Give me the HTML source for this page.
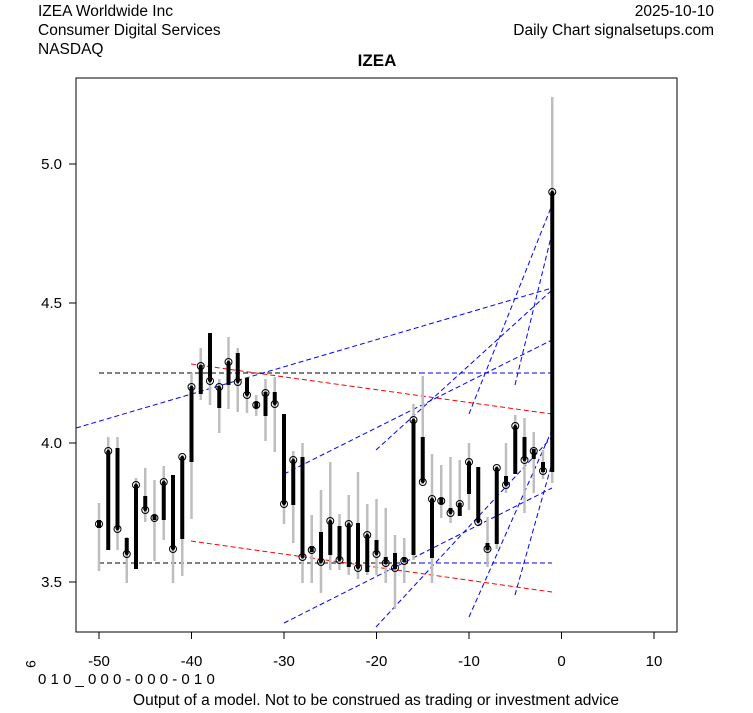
<!DOCTYPE html>
<html><head><meta charset="utf-8"><style>
body{margin:0;background:#fff}
svg text{font-family:"Liberation Sans",Arial,sans-serif}
</style></head><body>
<svg id="s" width="753" height="708" viewBox="0 0 753 708" xmlns="http://www.w3.org/2000/svg">
<rect width="753" height="708" fill="#fff"/>
<text x="38" y="16" font-size="15.5">IZEA Worldwide Inc</text>
<text x="38" y="35" font-size="15.5">Consumer Digital Services</text>
<text x="38" y="54" font-size="15.5">NASDAQ</text>
<text x="714" y="16" font-size="15.5" text-anchor="end">2025-10-10</text>
<text x="714" y="35" font-size="15.5" text-anchor="end">Daily Chart signalsetups.com</text>
<text x="377" y="66" font-size="17" font-weight="bold" text-anchor="middle">IZEA</text>
<rect x="76" y="78" width="601" height="554" fill="none" stroke="#000"/>
<g font-size="15" text-anchor="middle">
<line x1="99" y1="632" x2="99" y2="639" stroke="#000"/><text x="99" y="666">-50</text>
<line x1="191.5" y1="632" x2="191.5" y2="639" stroke="#000"/><text x="191.5" y="666">-40</text>
<line x1="284" y1="632" x2="284" y2="639" stroke="#000"/><text x="284" y="666">-30</text>
<line x1="376.5" y1="632" x2="376.5" y2="639" stroke="#000"/><text x="376.5" y="666">-20</text>
<line x1="469" y1="632" x2="469" y2="639" stroke="#000"/><text x="469" y="666">-10</text>
<line x1="561.5" y1="632" x2="561.5" y2="639" stroke="#000"/><text x="561.5" y="666">0</text>
<line x1="654" y1="632" x2="654" y2="639" stroke="#000"/><text x="654" y="666">10</text>
</g>
<g font-size="15" text-anchor="end">
<line x1="69" y1="582" x2="76" y2="582" stroke="#000"/><text x="62" y="587">3.5</text>
<line x1="69" y1="443" x2="76" y2="443" stroke="#000"/><text x="62" y="448">4.0</text>
<line x1="69" y1="303" x2="76" y2="303" stroke="#000"/><text x="62" y="308">4.5</text>
<line x1="69" y1="164" x2="76" y2="164" stroke="#000"/><text x="62" y="169">5.0</text>
</g>
<text x="26" y="664" font-size="14" transform="rotate(90 26 664)" text-anchor="middle">9</text>
<text x="38" y="684" font-size="15">0 1 0 _ 0 0 0 - 0 0 0 - 0 1 0</text>
<text x="376" y="705" font-size="15.5" text-anchor="middle">Output of a model. Not to be construed as trading or investment advice</text>
<g id="lines" fill="none" stroke-width="1" stroke-dasharray="5,3">
<line x1="99" y1="373" x2="420" y2="373" stroke="#000"/>
<line x1="99" y1="563" x2="420" y2="563" stroke="#000"/>
<line x1="420" y1="373" x2="552" y2="373" stroke="#00f"/>
<line x1="420" y1="563" x2="552" y2="563" stroke="#00f"/>
<line x1="191" y1="364" x2="552" y2="414" stroke="#f00"/>
<line x1="191" y1="541" x2="552" y2="592" stroke="#f00"/>
<line x1="76" y1="428" x2="552" y2="288" stroke="#00f"/>
<line x1="284" y1="474" x2="552" y2="340" stroke="#00f"/>
<line x1="284" y1="623" x2="552" y2="488" stroke="#00f"/>
<line x1="376" y1="627" x2="552" y2="437" stroke="#00f"/>
<line x1="376" y1="450" x2="552" y2="290" stroke="#00f"/>
<line x1="469" y1="414" x2="552" y2="205" stroke="#00f"/>
<line x1="515" y1="385" x2="552" y2="233" stroke="#00f"/>
<line x1="469" y1="617" x2="552" y2="430" stroke="#00f"/>
<line x1="515" y1="595" x2="552" y2="463" stroke="#00f"/>
</g>
<g id="c"></g>
</svg>
<script>
var d=[
[503,571,520,528,524],[437,550,451,550,451],[437,550,448,529,529],[537,583,538,554,554],[478,569,485,569,485],
[468,522,496,510,510],[480,561,515,520,518],[466,540,482,520,482],[475,583,475,549,549],[457,576,457,539,457],
[373,519,387,462,387],[348,400,366,394,366],[333,405,333,381,381],[379,433,387,408,387],[337,409,362,385,362],
[348,412,353,382,382],[378,413,378,395,395],[395,416,402,408,405],[379,441,392,416,393],[377,452,392,404,404],
[414,524,414,504,504],[451,543,460,505,460],[443,583,457,557,557],[515,583,546,552,550],[490,593,532,562,562],
[462,570,521,555,521],[514,570,526,560,560],[495,575,524,567,524],[472,579,523,568,568],[504,575,535,572,535],
[499,575,540,554,554],[508,583,557,564,563],[535,609,553,569,568],[538,583,557,562,561],[404,560,420,555,420],
[376,483,437,482,482],[454,583,499,558,499],[465,518,498,504,501],[457,523,508,513,513],[460,516,503,516,504],
[443,510,462,494,462],[467,522,467,522,522],[517,567,543,550,549],[467,549,468,544,468],[443,493,476,485,485],
[415,474,426,474,426],[418,513,437,460,460],[432,493,449,459,451],[450,479,462,472,471],[97,483,192,472,192]];
var g=document.getElementById('c'),h='';
d.forEach(function(b,i){var x=99+i*9.25;
h+='<line x1="'+x+'" y1="'+b[0]+'" x2="'+x+'" y2="'+b[1]+'" stroke="#bebebe" stroke-width="2.5"/>';
h+='<line x1="'+x+'" y1="'+b[2]+'" x2="'+x+'" y2="'+b[3]+'" stroke="#000" stroke-width="4"/>';
h+='<circle cx="'+x+'" cy="'+b[4]+'" r="3.5" fill="none" stroke="#000" stroke-width="1"/><circle cx="'+x+'" cy="'+b[4]+'" r="1.5" fill="#000"/>';});
g.innerHTML=h;
</script>
</body></html>
